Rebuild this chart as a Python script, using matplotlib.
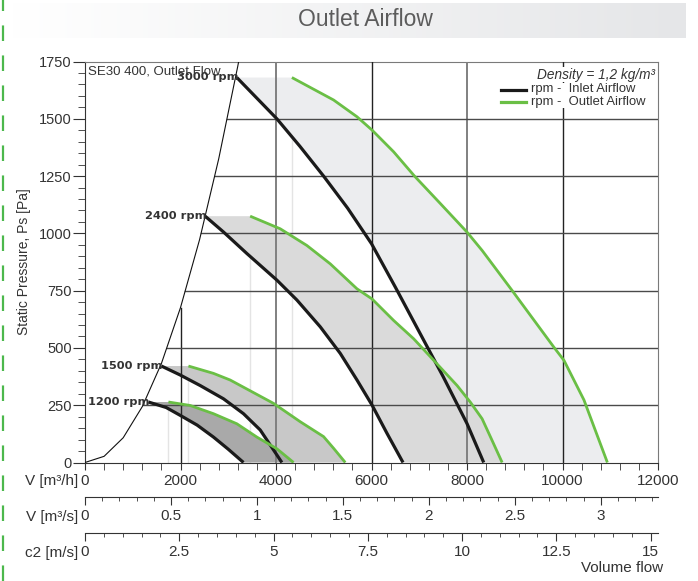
import numpy as np
import matplotlib
matplotlib.use("Agg")
import matplotlib.pyplot as plt
from matplotlib.lines import Line2D

plt.rcParams['font.family'] = ['Liberation Sans', 'DejaVu Sans']

W, H = 698, 581

# system curve (thin line)
sys_v = [0, 400, 800, 1200, 1600, 2000, 2400, 2800, 3200, 3300]
sys_p = [0, 27, 108, 244, 432, 676, 973, 1325, 1730, 1840]

rpm_labels = ["3000 rpm", "2400 rpm", "1500 rpm", "1200 rpm"]

inlet_3000_v = [3180, 4018, 4500, 4996, 5500, 6000, 6500, 7000, 7500, 8000, 8350]
inlet_3000_p = [1680, 1500, 1380, 1250, 1110, 955, 765, 570, 375, 170, 0]
outlet_3000_v = [4333, 5206, 5695, 6010, 6463, 6900, 7442, 8002, 8318, 8947, 9820, 10030, 10449, 10659, 10940]
outlet_3000_p = [1680, 1582, 1509, 1451, 1356, 1250, 1130, 1005, 925, 750, 503, 446, 273, 156, 0]

inlet_2400_v = [2516, 2900, 3390, 4018, 4438, 4927, 5346, 5696, 6010, 6325, 6660]
inlet_2400_p = [1075, 1006, 912, 796, 709, 592, 476, 360, 251, 127, 0]
outlet_2400_v = [3459, 4088, 4647, 5136, 5696, 6010, 6463, 6883, 7302, 7792, 8071, 8316, 8526, 8736]
outlet_2400_p = [1075, 1020, 947, 867, 758, 714, 620, 540, 446, 336, 263, 191, 96, 0]

inlet_1500_v = [1600, 1992, 2411, 2900, 3319, 3669, 3948, 4123]
inlet_1500_p = [421, 382, 336, 278, 213, 142, 55, 0]
outlet_1500_v = [2166, 2690, 3040, 3948, 4507, 4996, 5206, 5451]
outlet_1500_p = [421, 389, 360, 258, 178, 113, 62, 0]

inlet_1200_v = [1328, 1700, 2000, 2350, 2690, 3000, 3319]
inlet_1200_p = [264, 240, 205, 163, 111, 58, 0]
outlet_1200_v = [1747, 2201, 2690, 3180, 3599, 4018, 4228, 4368]
outlet_1200_p = [264, 249, 213, 169, 111, 60, 24, 0]

fill_colors = ["#ecedef", "#dadada", "#c8c8c8", "#a9a9a9"]

x_ticks = [0, 2000, 4000, 6000, 8000, 10000, 12000]
y_ticks = [0, 250, 500, 750, 1000, 1250, 1500, 1750]
ms_ticks = [0, 0.5, 1, 1.5, 2, 2.5, 3]
ms_labels = ["0", "0.5", "1", "1.5", "2", "2.5", "3"]
c2_ticks = [0, 2.5, 5, 7.5, 10, 12.5, 15]
c2_labels = ["0", "2.5", "5", "7.5", "10", "12.5", "15"]
M3H_PER_MS = 789.7  # m3/h per 1 m/s outlet velocity

GREEN = "#6abf45"
TXT = "#333333"


def fx(px):
    return px / W


def fy(py):
    return 1 - py / H


fig = plt.figure(figsize=(W / 100, H / 100), dpi=100)

# title banner with gradient
bar = fig.add_axes([fx(12), fy(38), fx(674), 35 / H])
grad = np.linspace(0, 1, 256).reshape(1, -1)
c0 = np.array([1.0, 1.0, 1.0])
c1 = np.array([0xe5, 0xe6, 0xe8]) / 255
img = c0[None, None, :] * (1 - grad[..., None]) + c1[None, None, :] * grad[..., None]
bar.imshow(img, aspect="auto", extent=[0, 1, 0, 1])
bar.set_axis_off()
fig.text(fx(365), fy(20), "Outlet Airflow", ha="center", va="center",
         fontsize=16.5, color="#5c5c5c")

# green dashed margin line
fig.add_artist(Line2D([fx(3), fx(3)], [0, 1], transform=fig.transFigure,
                      color="#4cb84c", lw=1.6, dashes=(7, 6.5)))

ax = fig.add_axes([fx(85), fy(462.5), fx(658) - fx(85), fy(61.5) - fy(462.5)])
ax.set_xlim(0, 12000)
ax.set_ylim(0, 1750)

curves = [
    (inlet_3000_v, inlet_3000_p, outlet_3000_v, outlet_3000_p),
    (inlet_2400_v, inlet_2400_p, outlet_2400_v, outlet_2400_p),
    (inlet_1500_v, inlet_1500_p, outlet_1500_v, outlet_1500_p),
    (inlet_1200_v, inlet_1200_p, outlet_1200_v, outlet_1200_p),
]

for (iv, ip, ov, op), col in zip(curves, fill_colors):
    ax.plot([ov[0], ov[0]], [0, op[0]], color="#e4e4e4", lw=1, zorder=1)
    poly_v = list(iv) + list(ov[::-1])
    poly_p = list(ip) + list(op[::-1])
    ax.fill(poly_v, poly_p, color=col, lw=0, zorder=2)

# grid only to the right of the system curve
for v in x_ticks[1:-1]:
    top = min(1750, np.interp(v, sys_v, sys_p))
    if v in (4000, 8000):
        ax.plot([v, v], [0, top], color="#808080", lw=1.4, zorder=3)
    else:
        ax.plot([v, v], [0, top], color="#222222", lw=1.0, zorder=3)
for p in y_ticks[1:-1]:
    start = np.interp(p, sys_p, sys_v)
    ax.plot([start, 12000], [p, p], color="#4a4a4a", lw=1.0, zorder=3)

ax.plot(sys_v, sys_p, color="#111111", lw=0.8, zorder=4)

for (iv, ip, ov, op), lab in zip(curves, rpm_labels):
    ax.plot(iv, ip, color="#1a1a1a", lw=2.3, zorder=5, solid_capstyle="butt")
    ax.plot(ov, op, color=GREEN, lw=2.0, zorder=5, solid_capstyle="butt")
    ax.text(iv[0] + 30, ip[0] + 2, lab, ha="right", va="center", fontsize=8.2,
            fontweight="bold", color=TXT, zorder=6, family=["DejaVu Sans"])

for s in ["left", "bottom"]:
    ax.spines[s].set_color("#333333")
for s in ["top", "right"]:
    ax.spines[s].set_color("#7a7a7a")

ax.set_xticks(x_ticks)
ax.set_xticklabels([str(t) for t in x_ticks])
ax.set_xticks(np.arange(0, 12001, 400), minor=True)
ax.set_yticks(y_ticks)
ax.set_yticklabels([str(t) for t in y_ticks])
ax.set_yticks(np.arange(0, 1751, 50), minor=True)
ax.tick_params(axis="x", which="both", length=5, color=TXT, labelsize=11, labelcolor=TXT, pad=3.5)
ax.tick_params(axis="y", which="major", length=8.5, color=TXT, labelsize=10.5, labelcolor=TXT, pad=1)
ax.tick_params(axis="y", which="minor", length=5, color=TXT)
ax.set_ylabel("Static Pressure, Ps [Pa]", fontsize=10, color=TXT, labelpad=6)

ax.text(0.005, 0.99, "SE30 400, Outlet Flow", transform=ax.transAxes, ha="left", va="top",
        fontsize=9.5, color=TXT, zorder=4)
ax.text(0.995, 0.985, "Density = 1,2 kg/m³", transform=ax.transAxes, ha="right", va="top",
        fontsize=9.8, style="italic", color=TXT, zorder=7,
        bbox=dict(facecolor="white", edgecolor="none", pad=0.3))

# legend drawn by hand
fig.add_artist(Line2D([fx(501), fx(526)], [fy(89.5), fy(89.5)], color="#1a1a1a", lw=2.3))
fig.add_artist(Line2D([fx(501), fx(526)], [fy(101.5), fy(101.5)], color=GREEN, lw=2.3))
fig.text(fx(531), fy(89), "rpm -  Inlet Airflow", ha="left", va="center", fontsize=9.4, color=TXT,
         bbox=dict(facecolor="white", edgecolor="none", pad=0.1))
fig.text(fx(531), fy(101.5), "rpm -  Outlet Airflow", ha="left", va="center", fontsize=9.4, color=TXT,
         bbox=dict(facecolor="white", edgecolor="none", pad=0.1))

ax_h = 462.5 - 61.5
sec1 = ax.secondary_xaxis(-(497.3 - 462.5) / ax_h, functions=(lambda v: v / 3600, lambda q: q * 3600))
sec1.set_xticks(ms_ticks)
sec1.set_xticklabels(ms_labels)
sec1.set_xticks(np.arange(0, 3.31, 0.1), minor=True)

sec2 = ax.secondary_xaxis(-(533.3 - 462.5) / ax_h,
                          functions=(lambda v: v / M3H_PER_MS, lambda c: c * M3H_PER_MS))
sec2.set_xticks(c2_ticks)
sec2.set_xticklabels(c2_labels)
sec2.set_xticks(np.arange(0, 15.01, 0.5), minor=True)

for sec in (sec1, sec2):
    sec.spines["bottom"].set_color("#333333")
    sec.tick_params(axis="x", which="major", length=5.5, color=TXT, labelsize=11, labelcolor=TXT, pad=3)
    sec.tick_params(axis="x", which="minor", length=3, color=TXT)

fig.text(fx(78), fy(481), "V [m³/h]", ha="right", va="center", fontsize=11, color=TXT)
fig.text(fx(78), fy(517), "V [m³/s]", ha="right", va="center", fontsize=11, color=TXT)
fig.text(fx(78), fy(553), "c2 [m/s]", ha="right", va="center", fontsize=11, color=TXT)
fig.text(fx(663), fy(568), "Volume flow", ha="right", va="center", fontsize=11, color=TXT)

fig.savefig("out.png", dpi=100)
